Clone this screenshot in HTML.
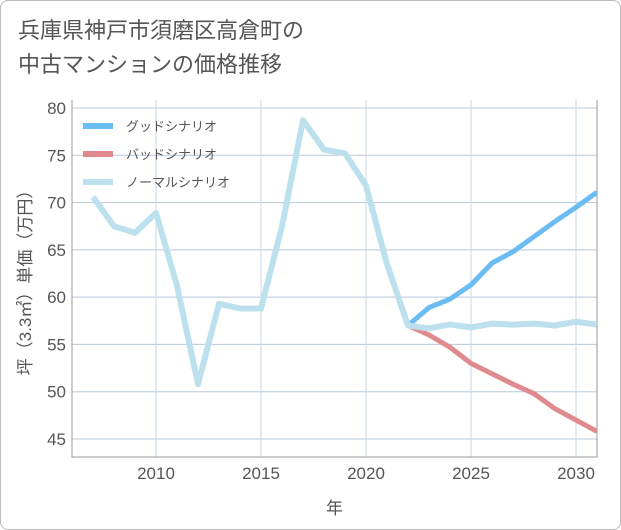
<!DOCTYPE html>
<html><head><meta charset="utf-8"><style>
body{margin:0;background:#fff;font-family:"Liberation Sans","Noto Sans CJK JP",sans-serif}
#card{position:absolute;left:0;top:0;width:619px;height:528px;border:1px solid #bbb;border-radius:8px;background:#fff}
#title{position:absolute;left:18px;top:14px;font-size:22px;line-height:34px;color:#555;margin:0;font-weight:normal}
</style></head><body>
<div id="card"></div>
<h1 id="title">兵庫県神戸市須磨区高倉町の<br>中古マンションの価格推移</h1>
<svg id="chart" width="621" height="530" style="position:absolute;left:0;top:0"></svg>
<script>
const years=[2007,2008,2009,2010,2011,2012,2013,2014,2015,2016,2017,2018,2019,2020,2021,2022,2023,2024,2025,2026,2027,2028,2029,2030,2031];
const normalVals=[70.6,67.5,66.8,68.9,61.2,50.8,59.3,58.8,58.8,67.5,78.7,75.6,75.2,71.8,63.5,57.0,56.7,57.1,56.8,57.2,57.1,57.2,57.0,57.4,57.1];
const futureYears=[2022,2023,2024,2025,2026,2027,2028,2029,2030,2031];
const goodVals=[57.0,58.9,59.8,61.3,63.6,64.8,66.4,68.0,69.5,71.1];
const badVals=[57.0,56.0,54.7,53.0,51.9,50.8,49.8,48.2,47.0,45.8];
const yTicks=[45,50,55,60,65,70,75,80];
const xTicks=[2010,2015,2020,2025,2030];
const legendLabels=["グッドシナリオ","バッドシナリオ","ノーマルシナリオ"];
const colors=["#6bbcf2","#e08a90","#bde0ee"];
const L=72,R=597,T=100,B=457;
const xs=y=>L+(y-2006)*(R-L)/25;
const ys=v=>108+(80-v)*(439-108)/35;
const svg=document.getElementById('chart');const NS='http://www.w3.org/2000/svg';
function mk(t,a,p){const e=document.createElementNS(NS,t);for(const k in a)e.setAttribute(k,a[k]);(p||svg).appendChild(e);return e;}
const clip=mk('clipPath',{id:'c'});mk('rect',{x:L,y:T,width:R-L,height:B-T},clip);
yTicks.forEach(v=>{const g=mk('line',{x1:L,x2:R,y1:ys(v),y2:ys(v),stroke:'#b8c8d8','stroke-width':1});

const t=mk('text',{x:L-6,y:ys(v)+6,'text-anchor':'end','font-size':17,fill:'#555'});t.textContent=v;
});
xTicks.forEach(v=>{const g=mk('line',{x1:xs(v),x2:xs(v),y1:T,y2:B,stroke:'#c5d8e6','stroke-width':1});

const t=mk('text',{x:xs(v),y:B+22,'text-anchor':'middle','font-size':17,fill:'#555'});t.textContent=v;
});
const ax=mk('path',{d:`M${L},${T}V${B}H${R}V${T}`,fill:'none',stroke:'#999','stroke-width':1});

function line(xv,yv,c,n,w){const d=xv.map((x,i)=>(i?'L':'M')+xs(x)+','+ys(yv[i])).join('');
const p=mk('path',{d,fill:'none',stroke:c,'stroke-width':w,'stroke-linejoin':'round','clip-path':'url(#c)'});
}
line(futureYears,badVals,colors[1],'bad-scenario-line',5);
line(futureYears,goodVals,colors[0],'good-scenario-line',5);
line(years,normalVals,colors[2],'normal-scenario-line',6);
legendLabels.forEach((s,i)=>{const y=126+i*28;
const r=mk('rect',{x:83,y:y-3,width:30,height:6,fill:colors[i]});
const t=mk('text',{x:126,y:y+5,'font-size':13,fill:'#555'});t.textContent=s;});
const xt=mk('text',{x:(L+R)/2,y:514,'text-anchor':'middle','font-size':17,fill:'#555'});xt.textContent='年';

const yt=mk('text',{x:0,y:0,'text-anchor':'middle','font-size':17,fill:'#555',transform:`translate(31,${(T+B)/2}) rotate(-90)`});yt.textContent='坪（3.3㎡）単価（万円）';

</script>
</body></html>
